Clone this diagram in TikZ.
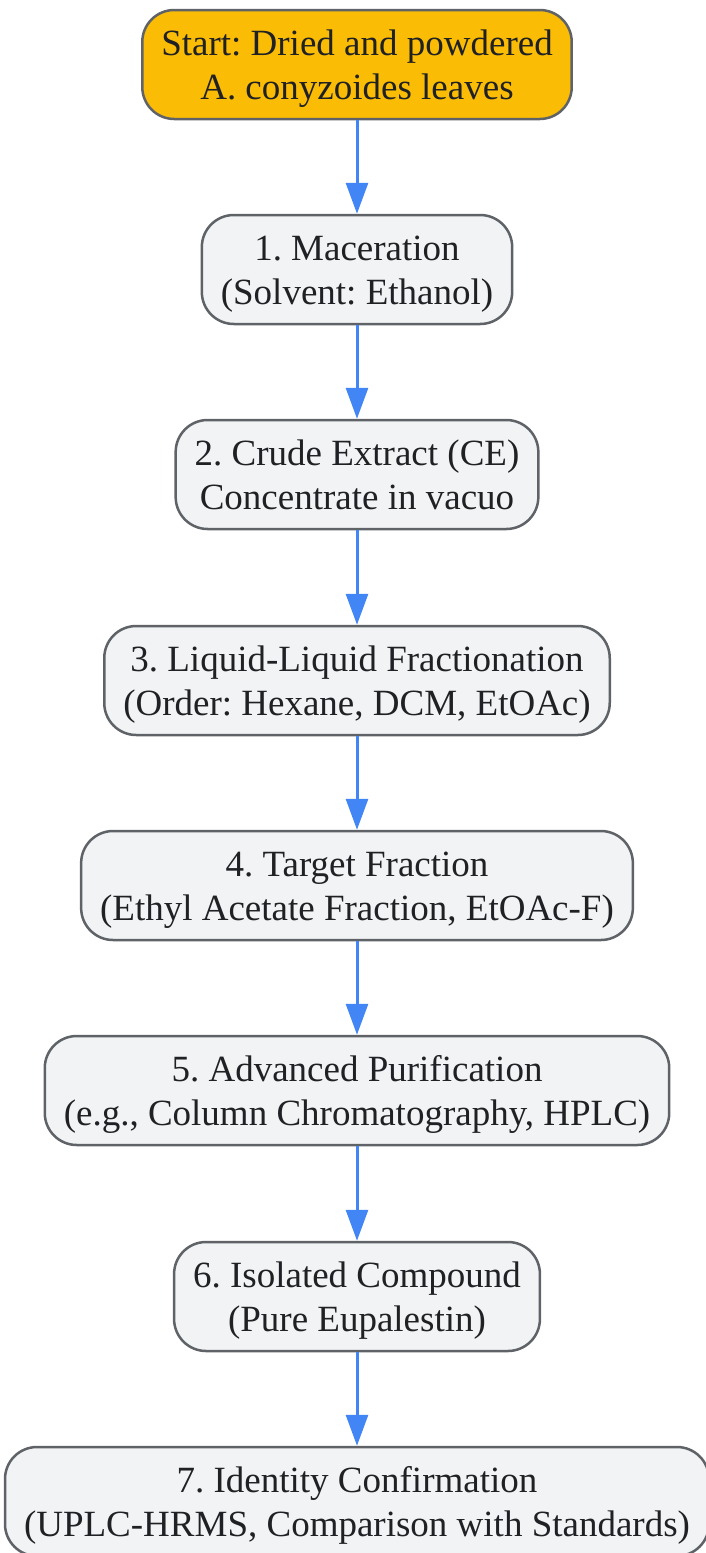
\documentclass[tikz,border=0pt]{standalone}
\usepackage{fontspec}
\setmainfont{Liberation Serif}
\frenchspacing
\usetikzlibrary{arrows.meta}
\definecolor{startfill}{HTML}{FABC05}
\definecolor{stepfill}{HTML}{F1F3F4}
\definecolor{stepline}{HTML}{5F6368}
\definecolor{flowblue}{HTML}{4285F4}
\definecolor{inktext}{HTML}{202124}
\newcommand{\topstrut}{\rule{0pt}{36pt}}
\newcommand{\botstrut}{\rule[-10pt]{0pt}{10pt}}
\tikzset{
  stepbox/.style={draw=stepline,line width=2.5pt,fill=stepfill,rounded corners=32pt,
    align=center,text=inktext,minimum height=109pt,inner xsep=19pt,inner ysep=2pt,
    font=\fontsize{37}{43.5}\selectfont},
  startbox/.style={stepbox,fill=startfill},
  flow/.style={draw=flowblue,line width=3pt,-{Triangle[width=22pt,length=31pt]}}
}
\begin{document}
\begin{tikzpicture}[x=1pt,y=1pt]
            \useasboundingbox (0,0) rectangle (705,-1553);
            \node[startbox] (start) at (357,-64.5) {\topstrut Start: Dried and powdered\\A. conyzoides leaves\botstrut};
            \node[stepbox] (macer) at (357,-269.5) {\topstrut 1. Maceration\\(Solvent: Ethanol)\botstrut};
            \node[stepbox] (crude) at (357,-474.5) {\topstrut 2. Crude Extract (CE)\\Concentrate in vacuo\botstrut};
            \node[stepbox] (fract) at (357,-680.5) {\topstrut 3. Liquid-Liquid Fractionation\\(Order: Hexane, DCM, EtOAc)\botstrut};
            \node[stepbox] (target) at (357,-885.5) {\topstrut 4. Target Fraction\\(Ethyl Acetate Fraction, EtOAc-F)\botstrut};
            \node[stepbox] (purif) at (357,-1090.5) {\topstrut 5. Advanced Purification\\(e.g., Column Chromatography, HPLC)\botstrut};
            \node[stepbox] (isol) at (357,-1296.5) {\topstrut 6. Isolated Compound\\(Pure Eupalestin)\botstrut};
            \node[stepbox] (ident) at (357,-1501.5) {\topstrut 7. Identity Confirmation\\(UPLC-HRMS, Comparison with Standards)\botstrut};
            \draw[flow] (start) -- (macer);
            \draw[flow] (macer) -- (crude);
            \draw[flow] (crude) -- (fract);
            \draw[flow] (fract) -- (target);
            \draw[flow] (target) -- (purif);
            \draw[flow] (purif) -- (isol);
            \draw[flow] (isol) -- (ident);
\end{tikzpicture}
\end{document}
